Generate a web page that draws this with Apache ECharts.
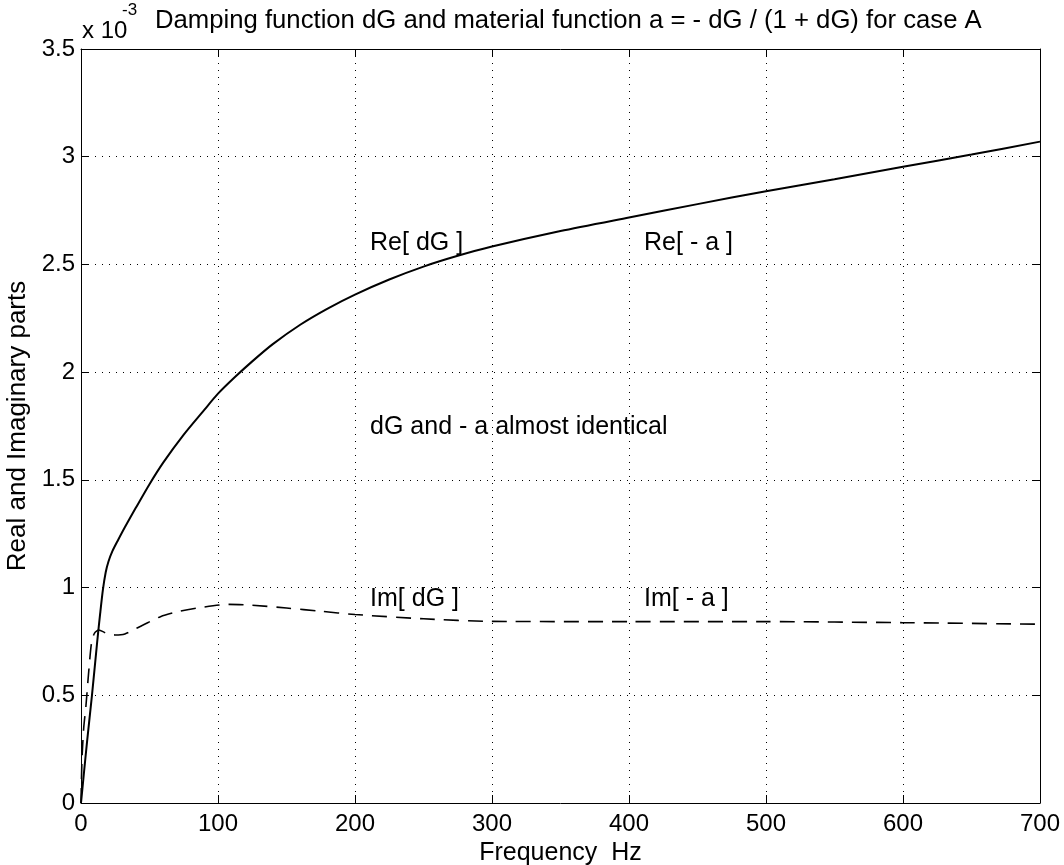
<!DOCTYPE html>
<html>
<head>
<meta charset="utf-8">
<script src="https://cdn.jsdelivr.net/npm/echarts@6/dist/echarts.min.js"></script>
<style>
  html, body { margin: 0; padding: 0; background: #fff; }
  #chart { width: 1064px; height: 865px; }
</style>
</head>
<body>
<div id="chart"></div>
<script>
// values in units of 1e-3
const reFreq = [0, 2, 4.5, 8, 12, 14, 16, 18, 20, 23, 27, 32, 40, 50, 60, 75, 90, 100, 112, 125, 140, 160, 180, 200, 225, 250, 275, 300, 350, 400, 450, 500, 550, 600, 650, 700]
const reDG = [0, 0.13, 0.29, 0.5, 0.76, 0.88, 0.99, 1.07, 1.12, 1.17, 1.22, 1.28, 1.37, 1.48, 1.58, 1.71, 1.825, 1.9, 1.975, 2.05, 2.13, 2.22, 2.295, 2.36, 2.43, 2.49, 2.54, 2.583, 2.655, 2.718, 2.78, 2.84, 2.895, 2.953, 3.01, 3.07]
const imFreq = [0, 0.7, 2, 3.6, 5.5, 7.8, 10, 13, 18, 25, 32, 45, 58, 72, 90, 108, 125, 150, 175, 200, 250, 300, 400, 500, 600, 700]
const imDG = [0, 0.2, 0.35, 0.45, 0.6, 0.75, 0.79, 0.803, 0.79, 0.78, 0.785, 0.825, 0.865, 0.89, 0.91, 0.922, 0.918, 0.905, 0.89, 0.875, 0.855, 0.843, 0.842, 0.842, 0.837, 0.83]
const xTicks = [0, 100, 200, 300, 400, 500, 600, 700]
const notes = [
  { text: 'Re[ dG ]', x: 211, y: 2.597 },
  { text: 'Re[ - a ]', x: 411, y: 2.597 },
  { text: 'dG and - a almost identical', x: 211, y: 1.747 },
  { text: 'Im[ dG ]', x: 211, y: 0.945 },
  { text: 'Im[ - a ]', x: 411, y: 0.945 },
]
const title = 'Damping function dG and material function a = - dG / (1 + dG) for case A'

const font = 'Liberation Sans, Arial, Helvetica, sans-serif'
const ink = '#000'
const grid = { left: 81, right: 24, top: 49, bottom: 62, containLabel: false, outerBoundsMode: 'none' }

const dotted = { show: true, lineStyle: { color: ink, type: [1, 6], width: 1 } }
const inTick = { show: true, inside: true, length: 8, lineStyle: { color: ink } }
const axisLine = { show: true, onZero: false, lineStyle: { color: ink, width: 1 } }

const chart = echarts.init(document.getElementById('chart'))
chart.setOption({
  animation: false,
  backgroundColor: '#fff',
  grid,
  xAxis: [
    {
      type: 'value', min: 0, max: 700, interval: 100,
      axisLine, axisTick: inTick, splitLine: dotted,
      axisLabel: { color: ink, fontSize: 24, fontFamily: font, margin: 9, customValues: xTicks },
      name: 'Frequency  Hz', nameLocation: 'middle', nameGap: 31,
      nameTextStyle: { color: ink, fontSize: 25, fontFamily: font },
    },
    {
      type: 'value', position: 'top', min: 0, max: 700, interval: 100,
      axisLine, axisTick: inTick, splitLine: { show: false }, axisLabel: { show: false },
    },
  ],
  yAxis: [
    {
      type: 'value', min: 0, max: 3.5, interval: 0.5,
      axisLine, axisTick: inTick, splitLine: dotted,
      axisLabel: { color: ink, fontSize: 24, fontFamily: font, margin: 6 },
      name: 'Real and Imaginary parts', nameLocation: 'middle', nameGap: 39,
      nameTextStyle: { color: ink, fontSize: 26, fontFamily: font },
    },
    {
      type: 'value', position: 'right', min: 0, max: 3.5, interval: 0.5,
      axisLine, axisTick: inTick, splitLine: { show: false }, axisLabel: { show: false },
    },
  ],
  series: [
    {
      name: 'Re', type: 'line', showSymbol: false, smooth: 0.25,
      data: reFreq.map((f, i) => [f, reDG[i]]),
      lineStyle: { color: ink, width: 2 },
    },
    {
      name: 'Im', type: 'line', showSymbol: false, smooth: 0.25,
      data: imFreq.map((f, i) => [f, imDG[i]]),
      lineStyle: { color: ink, width: 1.6, type: [15, 9] },
    },
  ],
})

const noteElements = notes.map((n) => {
  const [px, py] = chart.convertToPixel({ xAxisIndex: 0, yAxisIndex: 0 }, [n.x, n.y])
  return {
    type: 'text', x: px, y: py,
    style: { text: n.text, fill: ink, font: `25px ${font}`, textVerticalAlign: 'middle' },
  }
})

chart.setOption({
  graphic: [
    ...noteElements,
    { type: 'text', x: 82, y: 31, style: { text: 'x 10', fill: ink, font: `24px ${font}`, textVerticalAlign: 'middle' } },
    { type: 'text', x: 122, y: 10, style: { text: '-3', fill: ink, font: `17px ${font}`, textVerticalAlign: 'middle' } },
    { type: 'text', x: 155, y: 21, style: { text: title, fill: ink, font: `25.7px ${font}`, textVerticalAlign: 'middle' } },
  ],
})
</script>
</body>
</html>
